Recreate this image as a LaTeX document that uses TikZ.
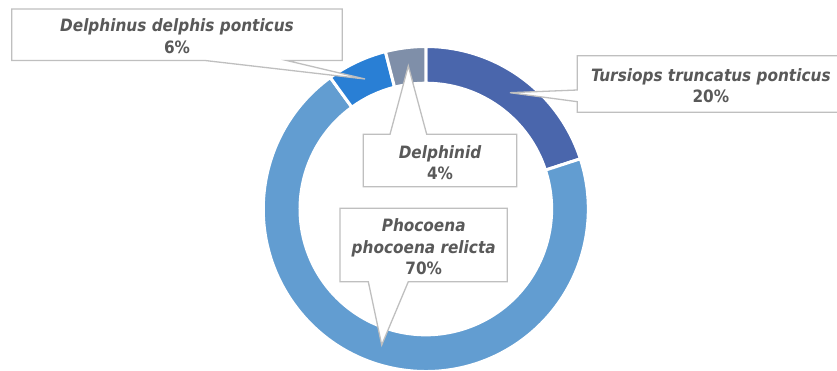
\documentclass[tikz,border=0pt]{standalone}
\usepackage{fontspec}
\newfontfamily\lblfont{DejaVu Sans Condensed Bold Oblique}
\newfontfamily\pctfont{DejaVu Sans Condensed Bold}
\definecolor{tursiops}{HTML}{4A66AC}
\definecolor{phocoena}{HTML}{629DD1}
\definecolor{delphinus}{HTML}{297FD5}
\definecolor{delphinid}{HTML}{7F8FA9}
\definecolor{lbltext}{HTML}{595959}
\definecolor{callout}{HTML}{BFBFBF}
\tikzset{
  wedge/.style={draw=white, line width=3pt, line join=miter},
  calloutbox/.style={draw=callout, fill=white, line width=1.3pt, line join=miter},
  lbl/.style={text=lbltext, align=center, inner sep=0pt,
    font=\lblfont\fontsize{17}{21.6}\selectfont}
}
% annular sector between angles #2 and #3
\newcommand{\ringpart}[3]{%
  \fill[#1] (#2:162.5) arc[start angle=#2, end angle=#3, radius=162.5]
    -- (#3:125.8) arc[start angle=#3, end angle=#2, radius=125.8] -- cycle;
  \draw[wedge] (#2:162.5) arc[start angle=#2, end angle=#3, radius=162.5]
    -- (#3:125.8) arc[start angle=#3, end angle=#2, radius=125.8] -- cycle;
}
\newcommand{\pct}[1]{{\pctfont #1}}
\begin{document}
\begin{tikzpicture}[x=1pt, y=1pt]
\useasboundingbox (0,0) rectangle (837,370);
\clip (0,0) rectangle (837,370);

% donut ring
\begin{scope}[shift={(425.8,161)}]
  \ringpart{tursiops}{18}{90}
  \ringpart{phocoena}{126}{378}
  \ringpart{delphinus}{104.4}{126}
  \ringpart{delphinid}{90}{104.4}
\end{scope}

% callout: Delphinus delphis ponticus
\draw[calloutbox] (11.7,361) -- (342.3,361) -- (342.3,309.5) -- (286.7,309.5)
  -- (365,291) -- (205,309.5) -- (11.7,309.5) -- cycle;
\node[lbl] (ddp) at (177,334) {Delphinus delphis ponticus\\\pct{6\%}};

% callout: Tursiops truncatus ponticus
\draw[calloutbox] (577.3,314.3) -- (845,314.3) -- (845,257.7) -- (577.3,257.7)
  -- (577.3,268.3) -- (510,277.3) -- (577.3,280) -- cycle;
\node[lbl] (ttp) at (710.8,284.5) {Tursiops truncatus ponticus\\\pct{20\%}};

% callout: Delphinid
\draw[calloutbox] (363.3,235.7) -- (390,235.7) -- (408.3,304) -- (426.7,235.7)
  -- (516.7,235.7) -- (516.7,183.3) -- (363.3,183.3) -- cycle;
\node[lbl] (dph) at (440,207.5) {Delphinid\\\pct{4\%}};

% callout: Phocoena phocoena relicta
\draw[calloutbox] (340,161.7) -- (507.3,161.7) -- (507.3,88.3) -- (408.3,88.3)
  -- (381.7,25) -- (368.3,88.3) -- (340,88.3) -- cycle;
\node[lbl] (ppr) at (423.7,123.3) {Phocoena\\phocoena relicta\\\pct{70\%}};
\end{tikzpicture}
\end{document}
